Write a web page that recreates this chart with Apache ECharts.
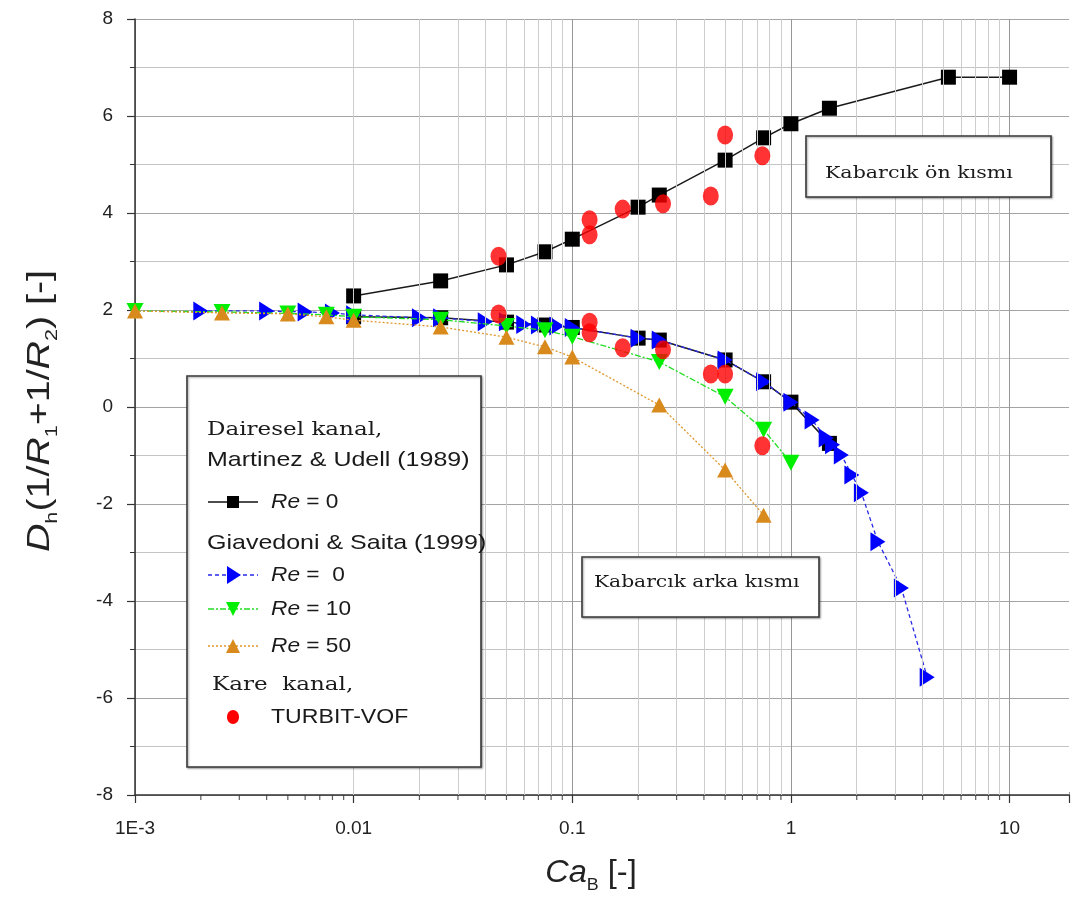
<!DOCTYPE html>
<html>
<head>
<meta charset="utf-8">
<script src="https://cdn.jsdelivr.net/npm/echarts@6/dist/echarts.min.js"></script>
<style>html,body{margin:0;padding:0;background:#fff}#c{width:1072px;height:908px}</style>
</head>
<body>
<div id="c"></div>
<script>
// ---- data ----
var xTickLabels = {'-3': '1E-3', '-2': '0.01', '-1': '0.1', '0': '1', '1': '10'};
var yTickValues = [-8, -6, -4, -2, 0, 2, 4, 6, 8];

// Martinez & Udell (1989), Re = 0 — bubble front
var martinezFrontX = [0.01, 0.025, 0.05, 0.075, 0.1, 0.2, 0.25, 0.5, 0.75, 1, 1.5, 5.25, 10];
var martinezFrontY = [2.29, 2.6, 2.93, 3.2, 3.46, 4.12, 4.37, 5.09, 5.55, 5.84, 6.16, 6.8, 6.8];
// Martinez & Udell (1989), Re = 0 — bubble rear (mostly hidden under blue)
var martinezRearX = [0.01, 0.025, 0.05, 0.075, 0.1, 0.2, 0.25, 0.5, 0.75, 1, 1.5];
var martinezRearY = [1.86, 1.84, 1.75, 1.69, 1.64, 1.42, 1.38, 0.97, 0.52, 0.1, -0.75];

// Giavedoni & Saita (1999)
var gsRe0X = [0.002, 0.004, 0.006, 0.008, 0.01, 0.02, 0.025, 0.04, 0.05, 0.06, 0.07, 0.085, 0.1, 0.2, 0.25, 0.5, 0.75, 1, 1.25, 1.45, 1.55, 1.7, 1.9, 2.1, 2.5, 3.2, 4.2];
var gsRe0Y = [1.98, 1.98, 1.96, 1.94, 1.9, 1.84, 1.84, 1.76, 1.76, 1.7, 1.69, 1.67, 1.64, 1.42, 1.38, 0.97, 0.52, 0.1, -0.27, -0.64, -0.78, -0.99, -1.4, -1.77, -2.78, -3.73, -5.57];
var gsRe10X = [0.001, 0.0025, 0.005, 0.0075, 0.01, 0.025, 0.05, 0.075, 0.1, 0.25, 0.5, 0.75, 1];
var gsRe10Y = [1.98, 1.96, 1.93, 1.9, 1.86, 1.8, 1.67, 1.58, 1.45, 0.93, 0.21, -0.47, -1.15];
var gsRe50X = [0.001, 0.0025, 0.005, 0.0075, 0.01, 0.025, 0.05, 0.075, 0.1, 0.25, 0.5, 0.75];
var gsRe50Y = [1.98, 1.94, 1.92, 1.86, 1.79, 1.65, 1.44, 1.24, 1.03, 0.04, -1.3, -2.23];

// TURBIT-VOF (square channel)
var vofX = [0.046, 0.12, 0.12, 0.17, 0.26, 0.43, 0.5, 0.74];
var vofFrontY = [3.11, 3.86, 3.55, 4.08, 4.19, 4.35, 5.61, 5.18];
var vofRearY = [1.92, 1.75, 1.53, 1.22, 1.18, 0.68, 0.68, -0.8];

// log-axis minor positions (2..9 per decade)
var minorMultipliers = [2, 3, 4, 5, 6, 7, 8, 9];
var decades = [0.001, 0.01, 0.1, 1, 10];
var X_MAX = 18.7;

// ---- build ----
function zip(xs, ys) { return xs.map(function (x, i) { return [x, ys[i]]; }); }
var minorX = [];
decades.forEach(function (d) { minorMultipliers.forEach(function (m) { var v = d * m; if (v < X_MAX) minorX.push(+v.toPrecision(6)); }); });

var SANS = 'Liberation Sans';
var SERIF = 'DejaVu Serif';
var TRI_RIGHT = 'path://M0,0L10,5L0,10Z';
var TRI_DOWN = 'path://M0,0L10,0L5,10Z';

function txt(str, x, y, family, size, sx, extra) {
  var st = {text: str, x: 0, y: 0, fontFamily: family, fontSize: size, fill: '#1a1a1a', verticalAlign: 'middle'};
  if (extra) for (var k in extra) st[k] = extra[k];
  return {type: 'text', z: 101, x: x, y: y, scaleX: sx, style: st};
}
var reRich = {i: {fontFamily: SANS, fontSize: 21, fontStyle: 'italic', fill: '#1a1a1a'}};
var boxStyle = {fill: '#fff', stroke: '#3a3a3a', lineWidth: 1.6, shadowBlur: 2, shadowColor: 'rgba(0,0,0,0.35)', shadowOffsetX: 1, shadowOffsetY: 1};

var chart = echarts.init(document.getElementById('c'), null, {renderer: 'canvas'});

var option = {
  animation: false,
  backgroundColor: '#ffffff',
  grid: {left: 135, right: 0, top: 19, bottom: 113},
  xAxis: {
    type: 'log', logBase: 10, min: 0.001, max: X_MAX,
    axisLine: {show: true, onZero: false, lineStyle: {color: '#333', width: 1.5}},
    axisTick: {show: true, length: 8, lineStyle: {color: '#333', width: 1.2}},
    axisLabel: {
      fontFamily: SANS, fontSize: 19, color: '#222', margin: 24,
      formatter: function (v) {
        var e = Math.log10(v), r = Math.round(e);
        if (Math.abs(e - r) > 0.01) return '';
        return xTickLabels[String(r)] || '';
      }
    },
    splitLine: {show: true, lineStyle: {color: '#979797', width: 1}}
  },
  yAxis: {
    type: 'value', min: -8, max: 8, interval: 2,
    axisLine: {show: true, onZero: false, lineStyle: {color: '#333', width: 1.5}},
    axisTick: {show: true, length: 8, lineStyle: {color: '#333', width: 1.2}},
    minorTick: {show: true, splitNumber: 2, length: 5, lineStyle: {color: '#333', width: 1}},
    axisLabel: {fontFamily: SANS, fontSize: 19, color: '#222', margin: 22,
      formatter: function (v) { return yTickValues.indexOf(v) >= 0 ? String(v) : ''; }},
    splitLine: {show: true, lineStyle: {color: '#a4a4a4', width: 1}},
    minorSplitLine: {show: true, lineStyle: {color: '#c4c4c4', width: 1}}
  },
  series: [
    { // minor vertical grid lines
      type: 'line', data: [[0.001, -100]], showSymbol: false, silent: true, z: 0,
      lineStyle: {opacity: 0},
      markLine: {
        silent: true, symbol: ['none', 'none'], label: {show: false}, animation: false,
        lineStyle: {color: '#cdcdcd', type: 'solid', width: 1},
        data: minorX.map(function (v) { return {xAxis: v}; })
      }
    },
    { // minor x ticks
      type: 'scatter', silent: true, z: 1, clip: false,
      symbol: 'rect', symbolSize: [1.2, 5], symbolOffset: [0, 2.5],
      itemStyle: {color: '#333'},
      data: minorX.map(function (v) { return [v, -8]; })
    },
    {
      name: 'Martinez rear', type: 'line', z: 2,
      data: zip(martinezRearX, martinezRearY),
      symbol: 'rect', symbolSize: 15,
      itemStyle: {color: '#000'}, lineStyle: {color: '#1a1a1a', width: 1.5}
    },
    {
      name: 'Martinez front', type: 'line', z: 3,
      data: zip(martinezFrontX, martinezFrontY),
      symbol: 'rect', symbolSize: 15,
      itemStyle: {color: '#000'}, lineStyle: {color: '#1a1a1a', width: 1.5}
    },
    {
      name: 'GS Re=0', type: 'line', z: 4,
      data: zip(gsRe0X, gsRe0Y),
      symbol: TRI_RIGHT, symbolSize: [15, 19],
      itemStyle: {color: '#0000ff'}, lineStyle: {color: '#2a2ae8', width: 1.3, type: [4, 3]}
    },
    {
      name: 'GS Re=10', type: 'line', z: 5,
      data: zip(gsRe10X, gsRe10Y),
      symbol: TRI_DOWN, symbolSize: [17, 16],
      itemStyle: {color: '#00ee00'}, lineStyle: {color: '#22dd22', width: 1.3, type: [6, 2, 2, 2]}
    },
    {
      name: 'GS Re=50', type: 'line', z: 6,
      data: zip(gsRe50X, gsRe50Y),
      symbol: 'triangle', symbolSize: [16, 15],
      itemStyle: {color: '#d98a1c'}, lineStyle: {color: '#e0962a', width: 1.3, type: [2, 2]}
    },
    {
      name: 'VOF front', type: 'scatter', z: 7,
      data: zip(vofX, vofFrontY), symbol: 'circle', symbolSize: [16, 19],
      itemStyle: {color: '#ff0000'}
    },
    {
      name: 'VOF rear', type: 'scatter', z: 7,
      data: zip(vofX, vofRearY), symbol: 'circle', symbolSize: [16, 19],
      itemStyle: {color: '#ff0000'}
    }
  ],
  graphic: [
    // cover the end-of-extent split line at the right edge (reference has no right frame)
    {type: 'rect', z: 1, shape: {x: 1069, y: 10, width: 3, height: 782}, style: {fill: '#fff'}},

    // Axis titles
    {type: 'text', z: 50, x: 40, y: 411, rotation: Math.PI / 2, scaleX: 1.27,
      style: {text: '{i|D}{sub|h}{n|(1/}{i|R}{sub|1}{n|+1/}{i|R}{sub|2}{n|) [-]}', x: 0, y: 0, align: 'center', verticalAlign: 'middle',
        rich: {
          i: {fontFamily: SANS, fontSize: 31, fontStyle: 'italic', fill: '#222', lineHeight: 42},
          sub: {fontFamily: SANS, fontSize: 17, fill: '#222', verticalAlign: 'bottom', lineHeight: 17},
          n: {fontFamily: SANS, fontSize: 31, fill: '#222', lineHeight: 42}
        }}},
    {type: 'text', z: 50, x: 591, y: 873, scaleX: 1.05,
      style: {text: '{i|Ca}{sub|B}{n| [-]}', x: 0, y: 0, align: 'center', verticalAlign: 'middle',
        rich: {
          i: {fontFamily: SANS, fontSize: 31, fontStyle: 'italic', fill: '#222', lineHeight: 42},
          sub: {fontFamily: SANS, fontSize: 17, fill: '#222', verticalAlign: 'bottom', lineHeight: 17},
          n: {fontFamily: SANS, fontSize: 31, fill: '#222', lineHeight: 42}
        }}},

    // Legend box
    {type: 'rect', z: 100, shape: {x: 187, y: 376, width: 294, height: 391}, style: boxStyle},
    txt('Dairesel kanal,', 207, 430, SERIF, 18, 1.28),
    txt('Martinez & Udell (1989)', 207, 460, SANS, 21, 1.19),
    {type: 'line', z: 101, shape: {x1: 208, y1: 502, x2: 258, y2: 502}, style: {stroke: '#111', lineWidth: 1.5}},
    {type: 'rect', z: 102, shape: {x: 227, y: 496, width: 12, height: 12}, style: {fill: '#000'}},
    txt('{i|Re} = 0', 271, 502, SANS, 21, 1.08, {rich: reRich}),
    txt('Giavedoni & Saita (1999)', 207, 543, SANS, 21, 1.19),
    {type: 'line', z: 101, shape: {x1: 208, y1: 575, x2: 258, y2: 575}, style: {stroke: '#2a2ae8', lineWidth: 1.3, lineDash: [4, 3]}},
    {type: 'polygon', z: 102, shape: {points: [[227, 566], [241, 575], [227, 584]]}, style: {fill: '#0000ff'}},
    txt('{i|Re} =  0', 271, 575, SANS, 21, 1.08, {rich: reRich}),
    {type: 'line', z: 101, shape: {x1: 208, y1: 609, x2: 258, y2: 609}, style: {stroke: '#22dd22', lineWidth: 1.3, lineDash: [6, 2, 2, 2]}},
    {type: 'polygon', z: 102, shape: {points: [[226, 602], [240, 602], [233, 616]]}, style: {fill: '#00ee00'}},
    txt('{i|Re} = 10', 271, 609, SANS, 21, 1.08, {rich: reRich}),
    {type: 'line', z: 101, shape: {x1: 208, y1: 646, x2: 258, y2: 646}, style: {stroke: '#e0962a', lineWidth: 1.3, lineDash: [2, 2]}},
    {type: 'polygon', z: 102, shape: {points: [[226, 653], [240, 653], [233, 639]]}, style: {fill: '#d98a1c'}},
    txt('{i|Re} = 50', 271, 646, SANS, 21, 1.08, {rich: reRich}),
    txt('Kare  kanal,', 212, 685, SERIF, 18, 1.28),
    {type: 'ellipse', z: 102, shape: {cx: 233, cy: 717, rx: 6, ry: 7}, style: {fill: '#ff0000'}},
    txt('TURBIT-VOF', 271, 717, SANS, 21, 1.1),

    // Annotation: bubble front
    {type: 'rect', z: 100, shape: {x: 806, y: 136, width: 245, height: 61}, style: boxStyle},
    txt('Kabarcık ön kısmı', 825, 174, SERIF, 17, 1.21),

    // Annotation: bubble rear
    {type: 'rect', z: 100, shape: {x: 582, y: 557, width: 237, height: 60}, style: boxStyle},
    txt('Kabarcık arka kısmı', 594, 583, SERIF, 17, 1.19)
  ]
};
chart.setOption(option);
</script>
</body>
</html>
